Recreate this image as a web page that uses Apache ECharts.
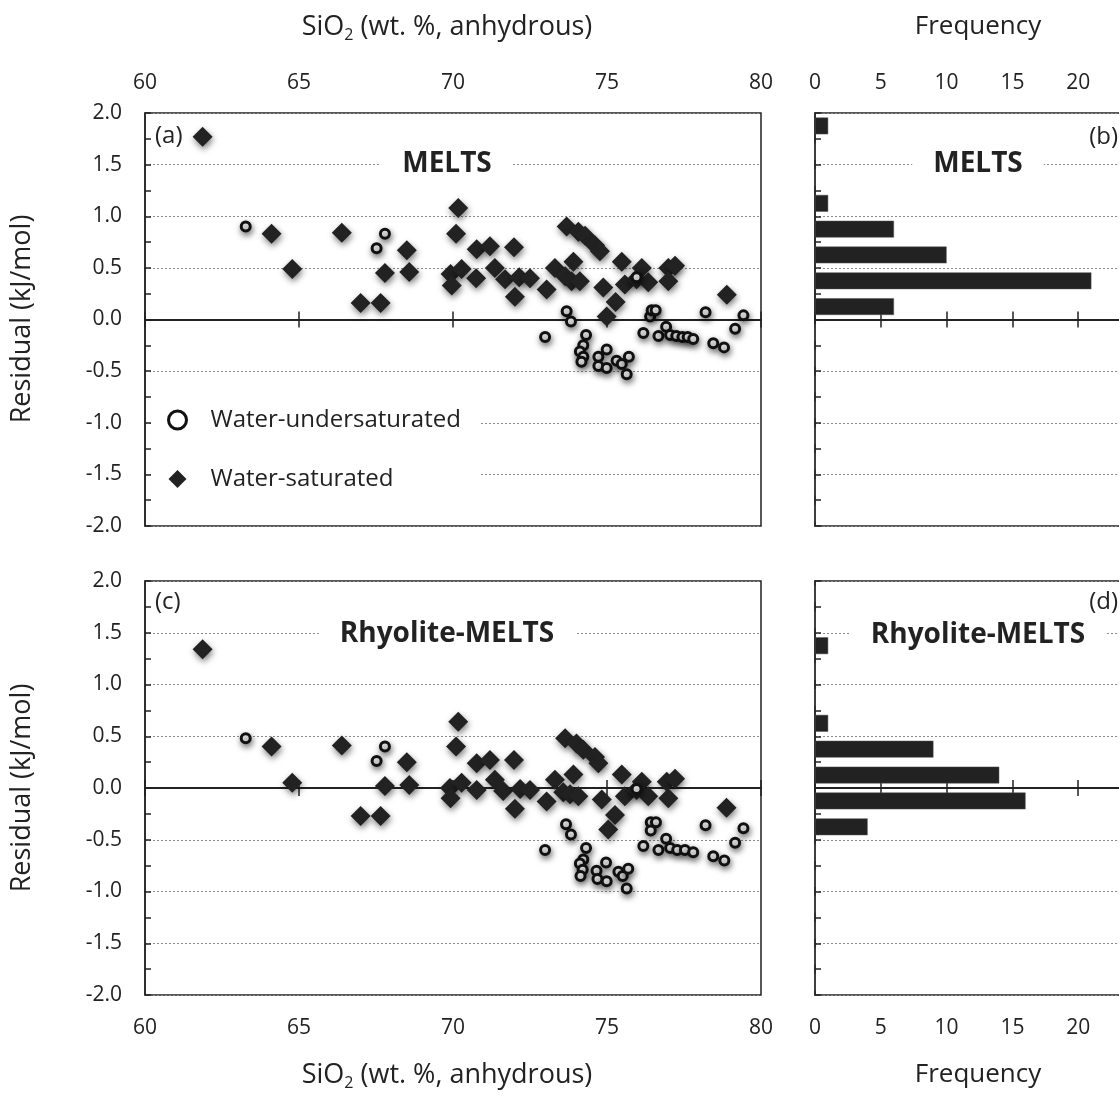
<!DOCTYPE html>
<html>
<head>
<meta charset="utf-8">
<title>MELTS residuals</title>
<script src="https://cdn.jsdelivr.net/npm/echarts@6/dist/echarts.min.js"></script>
<style>
  html, body { margin: 0; padding: 0; background: #fff; }
  #chart { width: 1119px; height: 1096px; }
</style>
</head>
<body>
<div id="chart"></div>
<script>
// MELTS residuals, water-saturated runs (SiO2, residual kJ/mol)
var meltsSat = [
  [61.87, 1.77], [64.11, 0.83], [64.78, 0.49], [66.39, 0.84], [67.79, 0.45],
  [68.50, 0.67], [68.58, 0.46], [67.00, 0.16], [67.65, 0.16], [70.17, 1.08],
  [70.10, 0.83], [69.92, 0.44], [70.28, 0.49], [69.96, 0.33], [70.77, 0.68],
  [71.20, 0.71], [71.98, 0.70], [70.75, 0.40], [71.36, 0.50], [71.69, 0.39],
  [72.15, 0.41], [72.50, 0.40], [72.01, 0.22], [73.04, 0.29], [73.31, 0.50],
  [73.69, 0.90], [74.07, 0.85], [74.29, 0.81], [74.61, 0.72], [74.77, 0.66],
  [73.91, 0.56], [75.48, 0.56], [76.13, 0.50], [76.99, 0.50], [77.21, 0.52],
  [73.64, 0.42], [73.85, 0.37], [74.12, 0.37], [74.88, 0.31], [75.58, 0.34],
  [75.96, 0.39], [76.34, 0.36], [76.99, 0.37], [75.28, 0.17], [74.99, 0.03],
  [78.89, 0.24]
];
// MELTS residuals, water-undersaturated runs
var meltsUnder = [
  [63.27, 0.90], [67.52, 0.69], [67.79, 0.83], [72.99, -0.17], [73.69, 0.08],
  [73.83, -0.02], [74.32, -0.15], [74.23, -0.25], [74.12, -0.31], [74.23, -0.36],
  [74.17, -0.41], [74.72, -0.36], [74.99, -0.29], [74.72, -0.45], [74.99, -0.47],
  [75.31, -0.40], [75.48, -0.43], [75.71, -0.36], [75.64, -0.53], [76.18, -0.13],
  [76.40, 0.03], [76.45, 0.09], [76.58, 0.09], [76.67, -0.16], [76.92, -0.07],
  [77.05, -0.15], [77.25, -0.16], [77.45, -0.17], [77.62, -0.17], [77.80, -0.19],
  [78.20, 0.07], [78.45, -0.23], [78.80, -0.27], [79.16, -0.09], [79.43, 0.04],
  [75.96, 0.41]
];
// Rhyolite-MELTS residuals, water-saturated runs
var rhyoSat = [
  [61.87, 1.34], [64.11, 0.40], [64.78, 0.05], [66.39, 0.41], [67.79, 0.02],
  [68.50, 0.25], [68.58, 0.03], [67.00, -0.27], [67.65, -0.27], [70.17, 0.64],
  [70.10, 0.40], [69.90, 0.00], [70.28, 0.05], [69.92, -0.10], [70.77, 0.24],
  [71.20, 0.27], [71.98, 0.27], [70.77, -0.02], [71.36, 0.08], [71.63, -0.03],
  [72.18, -0.01], [72.50, -0.02], [72.01, -0.20], [73.04, -0.13], [73.31, 0.08],
  [73.64, 0.48], [74.01, 0.43], [74.23, 0.37], [74.61, 0.30], [74.72, 0.24],
  [73.91, 0.13], [75.48, 0.13], [76.13, 0.06], [76.94, 0.06], [77.21, 0.09],
  [73.58, -0.04], [73.80, -0.06], [74.07, -0.08], [74.83, -0.11], [75.58, -0.08],
  [75.96, -0.02], [76.34, -0.08], [76.99, -0.10], [75.26, -0.26], [75.04, -0.40],
  [78.88, -0.19]
];
// Rhyolite-MELTS residuals, water-undersaturated runs
var rhyoUnder = [
  [63.27, 0.48], [67.52, 0.26], [67.79, 0.40], [72.99, -0.60], [73.67, -0.35],
  [73.83, -0.45], [74.32, -0.58], [74.23, -0.69], [74.12, -0.73], [74.21, -0.79],
  [74.14, -0.85], [74.66, -0.80], [74.97, -0.72], [74.69, -0.88], [74.99, -0.90],
  [75.37, -0.81], [75.51, -0.85], [75.69, -0.78], [75.64, -0.97], [76.18, -0.56],
  [76.42, -0.33], [76.59, -0.33], [76.42, -0.41], [76.67, -0.60], [76.92, -0.49],
  [77.05, -0.58], [77.28, -0.60], [77.53, -0.60], [77.80, -0.62], [78.20, -0.36],
  [78.45, -0.66], [78.81, -0.70], [79.16, -0.53], [79.43, -0.39], [75.96, -0.01]
];
// histogram bins (centre of each 0.25 kJ/mol bin) and frequencies
var binCenters = [-1.875, -1.625, -1.375, -1.125, -0.875, -0.625, -0.375, -0.125,
  0.125, 0.375, 0.625, 0.875, 1.125, 1.375, 1.625, 1.875];
var meltsFreq = [0, 0, 0, 0, 0, 0, 0, 0, 6, 21, 10, 6, 1, 0, 0, 1];
var rhyoFreq = [0, 0, 0, 0, 0, 0, 4, 16, 14, 9, 1, 0, 0, 1, 0, 0];
var sio2Ticks = [60, 65, 70, 75, 80];
var freqTicks = [0, 5, 10, 15, 20, 25];

var FONT = "'Open Sans', 'Noto Sans', sans-serif";
var INK = '#222';

var chart = echarts.init(document.getElementById('chart'));

// grids: top scatter, top histogram, bottom scatter, bottom histogram
// the histogram frame runs past the right edge of the picture
var grids = [
  { left: 145, top: 113, width: 616, height: 413 },
  { left: 815, top: 113, width: 329, height: 413 },
  { left: 145, top: 581, width: 616, height: 414 },
  { left: 815, top: 581, width: 329, height: 414 }
].map(function (g) {
  return Object.assign({
    show: true, borderColor: INK, borderWidth: 1.5, backgroundColor: 'transparent',
    containLabel: false, outerBoundsMode: 'none'
  }, g);
});

function labelAxis(grid, pos, ticks) {
  return {
    type: 'value', gridIndex: grid, position: pos,
    min: ticks[0], max: ticks[ticks.length - 1], interval: 5,
    axisLine: { show: false, onZero: false }, axisTick: { show: false }, splitLine: { show: false },
    axisLabel: { fontFamily: FONT, fontSize: 21, color: INK, margin: pos === 'top' ? 19 : 23 }
  };
}
function zeroAxis(grid, pos, ticks, yIndex) {
  return {
    type: 'value', gridIndex: grid, position: pos,
    min: ticks[0], max: ticks[ticks.length - 1], interval: 5,
    axisLine: { show: true, onZero: true, onZeroAxisIndex: yIndex, lineStyle: { color: INK, width: 2 } },
    axisTick: { show: true, inside: false, length: 8, lineStyle: { color: INK, width: 1.5 } },
    axisLabel: { show: false }, splitLine: { show: false }
  };
}
function residualAxis(grid, labels) {
  return {
    type: 'value', gridIndex: grid, min: -2, max: 2, interval: 0.5,
    axisLine: { show: true, onZero: false, lineStyle: { color: INK, width: 1.5 } },
    axisTick: { show: true, inside: true, length: 6, lineStyle: { color: INK, width: 1.5 } },
    minorTick: { show: true, splitNumber: 2, length: 6, lineStyle: { color: INK, width: 1.5 } },
    splitLine: { show: true, lineStyle: { color: '#8a8a8a', width: 1, type: [2, 2] } },
    axisLabel: {
      show: labels, fontFamily: FONT, fontSize: 21, color: INK, margin: 23,
      formatter: function (v) { return v.toFixed(1); }
    }
  };
}
function binAxis(grid) {
  return { type: 'category', gridIndex: grid, data: binCenters, show: false, boundaryGap: true };
}

var xAxes = [
  labelAxis(0, 'top', sio2Ticks),
  zeroAxis(0, 'bottom', sio2Ticks, 0),
  zeroAxis(0, 'top', sio2Ticks, 0),
  labelAxis(1, 'top', freqTicks),
  zeroAxis(1, 'bottom', freqTicks, 1),
  zeroAxis(1, 'top', freqTicks, 1),
  labelAxis(2, 'bottom', sio2Ticks),
  zeroAxis(2, 'bottom', sio2Ticks, 3),
  zeroAxis(2, 'top', sio2Ticks, 3),
  labelAxis(3, 'bottom', freqTicks),
  zeroAxis(3, 'bottom', freqTicks, 4),
  zeroAxis(3, 'top', freqTicks, 4)
];
var yAxes = [
  residualAxis(0, true),
  residualAxis(1, false),
  binAxis(1),
  residualAxis(2, true),
  residualAxis(3, false),
  binAxis(3)
];

var shadow = { shadowBlur: 6, shadowColor: 'rgba(0,0,0,0.5)', shadowOffsetX: 1, shadowOffsetY: 3 };
var satStyle = Object.assign({ color: INK, opacity: 1 }, shadow);
var underStyle = Object.assign({ color: '#fff', borderColor: '#111', borderWidth: 3, opacity: 1 }, shadow);

function satSeries(data, x, y) {
  return {
    name: 'Water-saturated', type: 'scatter', xAxisIndex: x, yAxisIndex: y, data: data,
    symbol: 'diamond', symbolSize: 20, z: 3, itemStyle: satStyle
  };
}
function underSeries(data, x, y) {
  return {
    name: 'Water-undersaturated', type: 'scatter', xAxisIndex: x, yAxisIndex: y, data: data,
    symbol: 'circle', symbolSize: 9, z: 4, itemStyle: underStyle
  };
}
function histSeries(data, x, y) {
  return {
    type: 'bar', xAxisIndex: x, yAxisIndex: y, data: data, barWidth: '65%',
    itemStyle: { color: INK, borderColor: '#555', borderWidth: 0.5 }
  };
}

function txt(text, x, y, size, opts) {
  return {
    type: 'text', x: x, y: y, z: 100, rotation: (opts && opts.rotation) || 0,
    style: Object.assign({
      text: text, fontFamily: FONT, fontSize: size, fill: INK,
      align: 'center', verticalAlign: 'middle'
    }, (opts && opts.style) || {})
  };
}
var masked = { fontWeight: 'bold', backgroundColor: '#fff', padding: [4, 21, 4, 21] };
var sio2Rich = {
  text: '{a|SiO}{s|2}{a| (wt. %, anhydrous)}',
  rich: {
    a: { fontFamily: FONT, fontSize: 27, lineHeight: 32, fill: INK },
    s: { fontFamily: FONT, fontSize: 16, lineHeight: 13, verticalAlign: 'bottom', fill: INK }
  }
};

var option = {
  animation: false,
  backgroundColor: '#fff',
  grid: grids,
  xAxis: xAxes,
  yAxis: yAxes,
  legend: {
    data: [
      { name: 'Water-undersaturated', icon: 'circle', itemStyle: { color: '#fff', borderColor: '#111', borderWidth: 3 } },
      { name: 'Water-saturated', icon: 'diamond', itemStyle: { color: INK } }
    ],
    orient: 'vertical', left: 153, top: 396, selectedMode: false,
    backgroundColor: '#fff', padding: [12, 20, 12, 14],
    itemWidth: 18, itemHeight: 18, itemGap: 35,
    textStyle: { fontFamily: FONT, fontSize: 24, lineHeight: 20, color: INK, padding: [0, 0, 0, 19] }
  },
  graphic: [
    txt('', 447, 27, 27, { style: sio2Rich }),
    txt('', 447, 1075, 27, { style: sio2Rich }),
    txt('Frequency', 978, 27, 26),
    txt('Frequency', 978, 1075, 26),
    txt('Residual (kJ/mol)', 22, 319, 27, { rotation: Math.PI / 2 }),
    txt('Residual (kJ/mol)', 22, 788, 27, { rotation: Math.PI / 2 }),
    txt('(a)', 155, 136, 24, { style: { align: 'left' } }),
    txt('(b)', 1118, 137, 24, { style: { align: 'right' } }),
    txt('(c)', 155, 602, 24, { style: { align: 'left' } }),
    txt('(d)', 1118, 602, 24, { style: { align: 'right' } }),
    txt('MELTS', 447, 164, 28, { style: masked }),
    txt('MELTS', 978, 164, 28, { style: masked }),
    txt('Rhyolite-MELTS', 447, 634, 28, { style: masked }),
    txt('Rhyolite-MELTS', 978, 635, 28, { style: masked })
  ],
  series: [
    satSeries(meltsSat, 0, 0),
    underSeries(meltsUnder, 0, 0),
    histSeries(meltsFreq, 3, 2),
    satSeries(rhyoSat, 6, 3),
    underSeries(rhyoUnder, 6, 3),
    histSeries(rhyoFreq, 9, 5)
  ]
};

chart.setOption(option);
window.addEventListener('resize', function () {
  chart.resize();
});
</script>
</body>
</html>
